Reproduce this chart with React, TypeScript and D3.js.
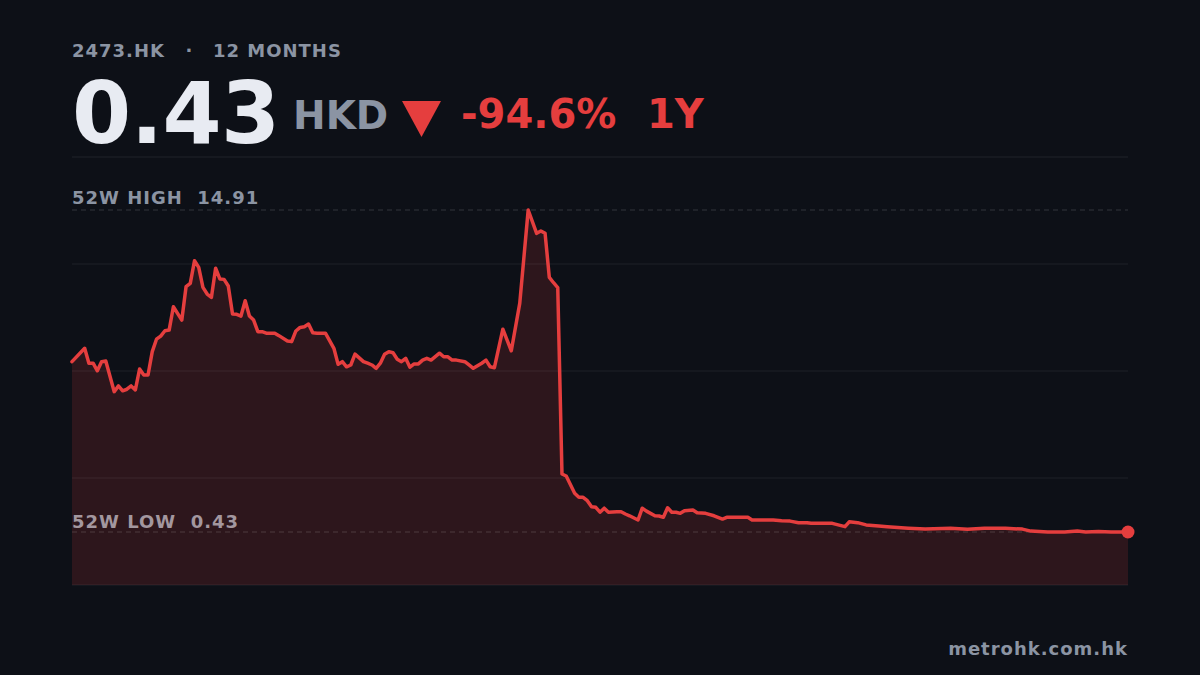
import React from "react";
import * as d3 from "d3";

// ---- data (trading-day index, closing price HKD) ----
const ticker = "2473.HK";
const periodLabel = "12 MONTHS";
const currency = "HKD";
const changeLabel = "-94.6%";
const rangeLabel = "1Y";
const watermark = "metrohk.com.hk";
const totalDays = 250;

const days = [
  0, 3, 4, 5, 6, 7, 8, 10, 11, 12, 13, 14, 15, 16, 17, 18, 19, 20, 21, 22,
  23, 24, 26, 27, 28, 29, 30, 31, 32, 33, 34, 35, 36, 37, 38, 39, 40, 41, 42, 43,
  44, 45, 46, 48, 49, 51, 52, 53, 54, 55, 56, 57, 58, 60, 62, 63, 64, 65, 66, 67,
  69, 70, 71, 72, 73, 74, 75, 76, 77, 78, 79, 80, 81, 82, 83, 84, 85, 87, 88, 89,
  90, 91, 93, 94, 95, 97, 98, 99, 100, 102, 104, 106, 108, 110, 111, 112, 113, 114, 115, 116,
  117, 119, 120, 121, 122, 123, 124, 125, 126, 127, 129, 130, 131, 132, 134, 135, 136, 138, 139, 140,
  141, 142, 143, 144, 145, 147, 148, 150, 152, 154, 155, 158, 160, 161, 164, 166, 168, 170, 172, 174,
  175, 177, 180, 183, 184, 186, 188, 191, 193, 198, 202, 208, 212, 216, 221, 225, 227, 231, 235, 238,
  240, 243, 246, 250,
];

const prices = [
  8.09, 8.69, 8.02, 8.02, 7.68, 8.09, 8.12, 6.74, 7.0, 6.78, 6.85, 7.0, 6.82, 7.76, 7.49, 7.49, 8.54, 9.1, 9.24, 9.48,
  9.51, 10.56, 9.96, 11.46, 11.61, 12.63, 12.33, 11.43, 11.13, 10.98, 12.29, 11.81, 11.79, 11.49, 10.23, 10.22, 10.14, 10.83, 10.14, 9.96,
  9.44, 9.44, 9.37, 9.37, 9.26, 9.02, 8.99, 9.47, 9.63, 9.66, 9.78, 9.39, 9.37, 9.37, 8.69, 7.97, 8.09, 7.86, 7.94, 8.43,
  8.09, 8.02, 7.94, 7.79, 8.02, 8.42, 8.54, 8.49, 8.2, 8.09, 8.24, 7.84, 7.99, 7.99, 8.16, 8.24, 8.16, 8.47, 8.31, 8.31,
  8.16, 8.16, 8.09, 7.94, 7.79, 8.02, 8.16, 7.86, 7.82, 9.55, 8.58, 10.71, 14.91, 13.86, 13.97, 13.86, 11.88, 11.64, 11.42, 3.04,
  2.95, 2.17, 1.99, 1.99, 1.84, 1.57, 1.54, 1.32, 1.5, 1.32, 1.34, 1.34, 1.24, 1.16, 0.97, 1.5, 1.37, 1.16, 1.15, 1.09,
  1.52, 1.32, 1.32, 1.27, 1.39, 1.42, 1.3, 1.27, 1.16, 1.01, 1.09, 1.09, 1.09, 0.97, 0.97, 0.97, 0.94, 0.92, 0.85, 0.85,
  0.82, 0.82, 0.82, 0.67, 0.89, 0.85, 0.75, 0.7, 0.67, 0.6, 0.56, 0.6, 0.55, 0.6, 0.6, 0.56, 0.47, 0.43, 0.43, 0.47,
  0.43, 0.45, 0.43, 0.43,
];

// ---- layout ----
const W = 1200;
const H = 675;
const left = 72;
const right = 1128;
const plotTop = 157;
const plotBottom = 585;
const padPx = 53;

const BG = "#0d1017";
const RED = "#e53e3e";
const GRAY = "#8b94a3";
const FONT = "'DejaVu Sans', sans-serif";

export default function App() {
  const hi = d3.max(prices) as number;
  const lo = d3.min(prices) as number;
  const last = prices[prices.length - 1];

  const x = d3.scaleLinear().domain([0, totalDays]).range([left, right]);
  const y = d3
    .scaleLinear()
    .domain([lo, hi])
    .range([plotBottom - padPx, plotTop + padPx]);

  const pts = days.map((d, i) => [d, prices[i]] as [number, number]);
  const line = d3
    .line<[number, number]>()
    .x((p) => x(p[0]))
    .y((p) => y(p[1]));
  const area = d3
    .area<[number, number]>()
    .x((p) => x(p[0]))
    .y0(plotBottom)
    .y1((p) => y(p[1]));

  const grid = d3.range(1, 5).map((i) => plotTop + ((plotBottom - plotTop) * i) / 4);

  React.useEffect(() => {
    document.body.style.margin = "0";
    document.body.style.background = BG;
  }, []);

  return (
    <svg
      width={W}
      height={H}
      viewBox={`0 0 ${W} ${H}`}
      style={{ display: "block", position: "absolute", left: 0, top: 0 }}
      fontFamily={FONT}
    >
      <rect x={0} y={0} width={W} height={H} fill={BG} />

      {/* header */}
      <text x={left} y={57} fill={GRAY} fontSize={18} fontWeight="bold" letterSpacing={1}>
        {ticker}
      </text>
      <text x={189} y={57} fill={GRAY} fontSize={18} fontWeight="bold" textAnchor="middle">
        ·
      </text>
      <text x={213} y={57} fill={GRAY} fontSize={18} fontWeight="bold" letterSpacing={1}>
        {periodLabel}
      </text>

      <text x={left} y={143} fill="#e8ebf2" fontSize={85} fontWeight="bold" letterSpacing={-0.5}>
        {d3.format(".2f")(last)}
      </text>
      <text x={293} y={129} fill={GRAY} fontSize={39} fontWeight="bold">
        {currency}
      </text>
      <path d="M402,101 L441,101 L421.5,137 Z" fill={RED} />
      <text x={461} y={128} fill={RED} fontSize={40} fontWeight="bold">
        {changeLabel}
      </text>
      <text x={647} y={128} fill={RED} fontSize={40} fontWeight="bold">
        {rangeLabel}
      </text>

      <line x1={left} x2={right} y1={plotTop} y2={plotTop} stroke="rgba(255,255,255,0.08)" strokeWidth={1} />

      {/* area + line */}
      <path d={area(pts) || ""} fill="rgba(229,62,62,0.15)" />

      {grid.map((g) => (
        <line key={g} x1={left} x2={right} y1={g} y2={g} stroke="rgba(255,255,255,0.07)" strokeWidth={1} />
      ))}

      <line x1={left} x2={right} y1={y(hi)} y2={y(hi)} stroke="rgba(255,255,255,0.16)" strokeWidth={1} strokeDasharray="5 4" />
      <line x1={left} x2={right} y1={y(lo)} y2={y(lo)} stroke="rgba(255,255,255,0.16)" strokeWidth={1} strokeDasharray="5 4" />

      <text x={left} y={y(hi) - 6} fill={GRAY} fontSize={18} fontWeight="bold" letterSpacing={1}>
        {`52W HIGH\u00a0\u00a0${d3.format(".2f")(hi)}`}
      </text>
      <text x={left} y={y(lo) - 4} fill="#a3979f" fontSize={18} fontWeight="bold" letterSpacing={1}>
        {`52W LOW\u00a0\u00a0${d3.format(".2f")(lo)}`}
      </text>

      <path
        d={line(pts) || ""}
        fill="none"
        stroke={RED}
        strokeWidth={3.5}
        strokeLinejoin="round"
        strokeLinecap="round"
      />
      <circle cx={x(days[days.length - 1])} cy={y(last)} r={6.5} fill={RED} />

      <text x={right} y={655} fill={GRAY} fontSize={18} fontWeight="bold" letterSpacing={1} textAnchor="end">
        {watermark}
      </text>
    </svg>
  );
}
